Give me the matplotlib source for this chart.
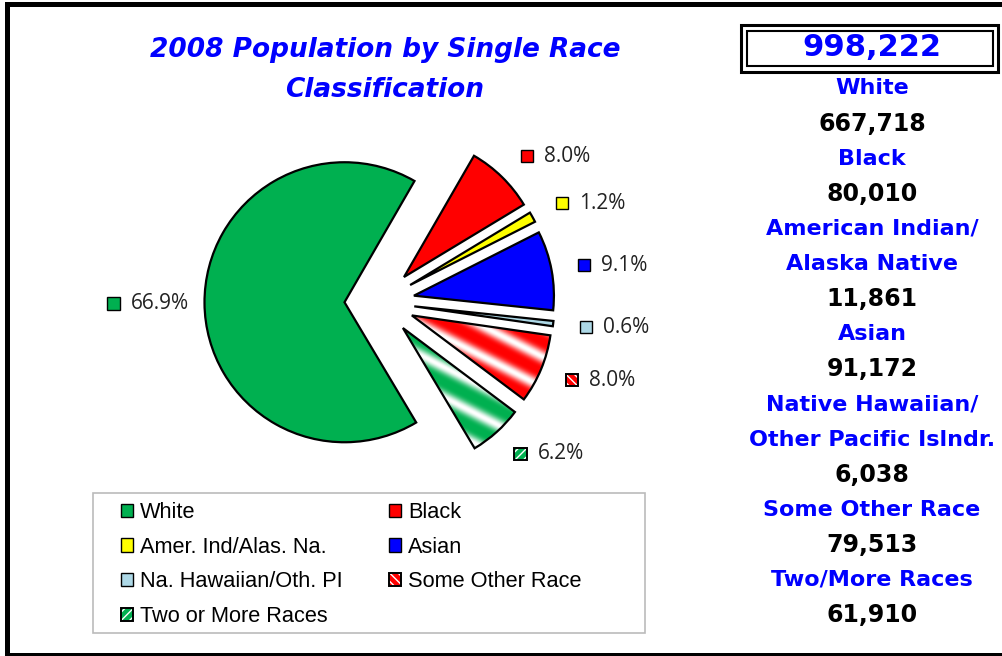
import numpy as np
import matplotlib
matplotlib.use("Agg")
import matplotlib.pyplot as plt
from matplotlib.patches import Rectangle
from matplotlib.offsetbox import DrawingArea, TextArea, HPacker, AnnotationBbox

# data
categories = ["White", "Black", "Amer. Ind/Alas. Na.", "Asian",
              "Na. Hawaiian/Oth. PI", "Some Other Race", "Two or More Races"]
population = [667718, 80010, 11861, 91172, 6038, 79513, 61910]
panel_names = [["White"], ["Black"], ["American Indian/", "Alaska Native"], ["Asian"],
               ["Native Hawaiian/", "Other Pacific Islndr."], ["Some Other Race"],
               ["Two/More Races"]]
title = "2008 Population by Single Race\nClassification"

colors = ["#00B050", "#FF0000", "#FFFF00", "#0000FF", "#ADD8E6", "#FF0000", "#00B050"]
hatches = [None, None, None, None, None, "\\\\\\\\", "////"]

W, H = 1002, 656
def iy(y):
    return H - y

fig = plt.figure(figsize=(W / 100, H / 100), dpi=100)
ax = fig.add_axes([0, 0, 1, 1])
ax.axis("off")

total = sum(population)
frac = np.array(population) / total
r = 140
cx, cy = 379.5, iy(302)
start = 60 + 360 * frac[0]

wedges, _ = ax.pie(population, colors=colors, center=(cx, cy), radius=r,
                   startangle=start, counterclock=False, explode=[35] * len(population),
                   wedgeprops=dict(edgecolor="black", linewidth=1.6))

# gradient stripes for the patterned slices
yy, xx = np.mgrid[0:H, 0:W] + 0.5
ang = np.deg2rad(27)
s = xx * np.sin(ang) + yy * np.cos(ang)
t = ((0.5 + 0.5 * np.cos(2 * np.pi * s / 27)) ** 2)[..., None]
for w, c, h in zip(wedges, colors, hatches):
    if h is None:
        continue
    base = np.array(matplotlib.colors.to_rgb(c))
    rgb = base * (1 - t) + t
    im = ax.imshow(rgb, extent=(0, W, 0, H), origin="lower", zorder=0.9,
                   interpolation="bilinear")
    im.set_clip_path(w)
    w.set_facecolor("none")


def swatch(c, h, size=9):
    da = DrawingArea(size, size, 0, 0)
    if h:
        da.add_artist(Rectangle((0, 0), size, size, fc=c, ec="white", lw=0, hatch=h))
        da.add_artist(Rectangle((0, 0), size, size, fc="none", ec="black", lw=1.4))
    else:
        da.add_artist(Rectangle((0, 0), size, size, fc=c, ec="black", lw=1.0))
    return da


# percentage labels
for w, c, h, f in zip(wedges, colors, hatches, frac):
    th = np.deg2rad((w.theta1 + w.theta2) / 2)
    ox, oy = w.center
    d = r * (1.19 if np.cos(th) > 0 else 1.11)
    x, y = ox + d * np.cos(th), oy + d * np.sin(th)
    txt = TextArea(f"{f * 100:.1f}%", textprops=dict(fontsize=15, family="Open Sans", color="#222222"))
    box = HPacker(children=[swatch(c, h), txt], align="center", pad=0, sep=8)
    bx = 0 if np.cos(th) > 0 else 1
    by = 0.5 - 0.12 * np.sin(th)
    ax.add_artist(AnnotationBbox(box, (x, y), xycoords="data", box_alignment=(bx, by),
                                 frameon=False, pad=0))

ax.text(385, iy(70), title, ha="center", va="center", fontsize=19, fontweight="bold",
        fontstyle="italic", color="#0000FF", linespacing=1.72, family="DejaVu Sans")

# legend
handles = []
for c, h in zip(colors, hatches):
    if h:
        handles.append((Rectangle((0, 0), 1, 1, fc=c, ec="white", lw=0, hatch=h),
                        Rectangle((0, 0), 1, 1, fc="none", ec="black", lw=1.4)))
    else:
        handles.append(Rectangle((0, 0), 1, 1, fc=c, ec="black", lw=1.0))
order = [0, 2, 4, 6, 1, 3, 5]
ax.legend([handles[i] for i in order], [categories[i] for i in order], ncol=2,
          loc="upper left", bbox_to_anchor=(121, iy(502)), bbox_transform=ax.transData,
          frameon=False, borderpad=0, borderaxespad=0, handlelength=0.55, handleheight=0.55,
          handletextpad=0.32, columnspacing=2.15, labelspacing=0.63,
          prop=dict(family="Liberation Sans", size=15.7))
ax.add_patch(Rectangle((93, iy(633)), 552, 140, fc="none", ec="#BBBBBB", lw=1.2))

# right panel
ax.add_patch(Rectangle((741.5, iy(71.5)), 257, 47, fc="none", ec="black", lw=2.2))
ax.add_patch(Rectangle((747, iy(65.5)), 246, 34.5, fc="none", ec="black", lw=1.5))
ax.text(872, iy(48), f"{total:,}", ha="center", va="center", fontsize=22,
        fontweight="bold", color="#0000FF")
lines = []
for names, v in zip(panel_names, population):
    lines += [(n, "#0000FF", 16) for n in names]
    lines.append((f"{v:,}", "black", 17))
for i, (s_, c, fs) in enumerate(lines):
    ax.text(872, iy(88.5 + 35.1 * i), s_, ha="center", va="center", fontsize=fs,
            fontweight="bold", color=c)

# frame
ax.add_patch(Rectangle((5, iy(7)), W, 5, fc="black", ec="none"))
ax.add_patch(Rectangle((5, 0), 5, H - 2, fc="black", ec="none"))
ax.add_patch(Rectangle((5, 0), W, 3, fc="black", ec="none"))

ax.set_xlim(0, W)
ax.set_ylim(0, H)
fig.savefig("out.png", dpi=100)
